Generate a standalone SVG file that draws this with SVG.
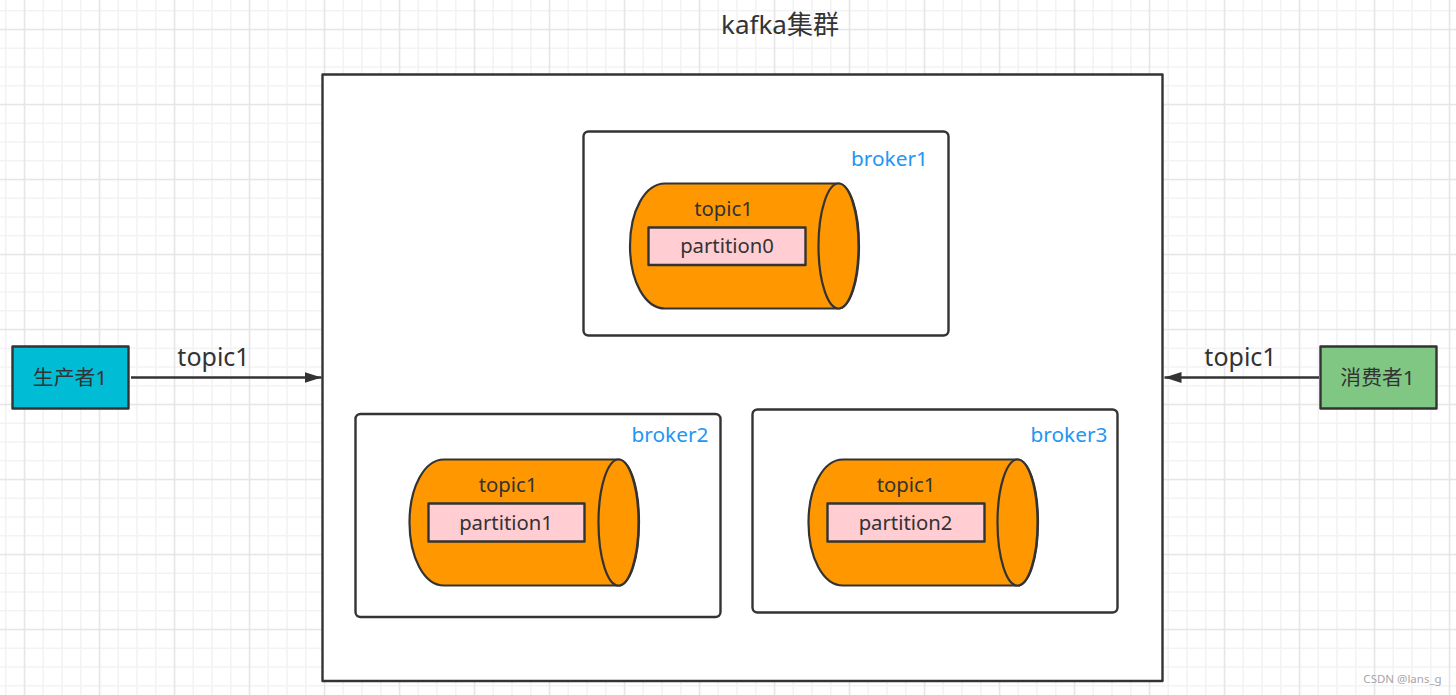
<svg xmlns="http://www.w3.org/2000/svg" width="1456" height="695" viewBox="0 0 1456 695">
<style>
.s{stroke:#333;stroke-width:2.4;stroke-linejoin:round}
.box{fill:#fff}
.cyl{fill:#ff9800;stroke:#333;stroke-width:2.2}
.p{fill:#ffcdd2}
text{font-family:"Noto Sans","Noto Sans CJK SC",sans-serif;fill:#333;text-anchor:middle}
.t{font-size:20.3px}
.b{font-size:20.8px;fill:#2196f3}
.l{font-size:25px}
.n{font-size:20.8px}
</style>
<defs>
<pattern id="grid" patternUnits="userSpaceOnUse" x="24" y="29" width="75" height="75">
<path d="M.5 0V75M19.25 0V75M38 0V75M56.75 0V75M0 .5H75M0 19.25H75M0 38H75M0 56.75H75" fill="none" stroke="#f3f3f3" stroke-width="1.6"/>
<path d="M.5 0V75M75.5 0V75M0 .5H75M0 75.500H75" fill="none" stroke="#e6e6e6" stroke-width="1.600"/>
</pattern>
<marker id="arrow" markerUnits="userSpaceOnUse" markerWidth="18" markerHeight="12" refX="17" refY="6" orient="auto-start-reverse">
<path d="M0 .5L17 6L0 11.5Z" fill="#333"/>
</marker>
</defs>
<rect width="1456" height="695" fill="#fff"/>
<rect width="1456" height="695" fill="url(#grid)"/>
<text x="780" y="34" style="font-size:26px">kafka集群</text>
<g id="cluster"><rect class="s box" x="322.500" y="74.500" width="840" height="606.500"/></g>
<g id="broker1">
<rect class="s box" x="583.500" y="131.500" width="365" height="204" rx="5"/>
<path class="cyl" d="M665 183.500H838C850 183.500 859 211 859 246S850 308.500 838 308.500H665C645 308.500 630 281 630 246S645 183.500 665 183.500Z"/>
<ellipse class="cyl" cx="838.500" cy="246" rx="20" ry="62.500"/>
<rect class="s p" x="648.500" y="227.500" width="157" height="37.500"/>
<text class="t" x="723.500" y="216">topic1</text>
<text class="t" x="727" y="253">partition0</text>
<text class="b" x="889.500" y="166">broker1</text>
</g>
<g id="broker2">
<rect class="s box" x="355.500" y="414" width="365" height="203" rx="5"/>
<path class="cyl" d="M444 459.500H618C630 459.500 639 487 639 522.500S630 585.500 618 585.500H444C424 585.500 409.500 557 409.500 522.500S424 459.500 444 459.500Z"/>
<ellipse class="cyl" cx="618.500" cy="522.500" rx="20" ry="63"/>
<rect class="s p" x="428.500" y="503.500" width="156" height="38"/>
<text class="t" x="508" y="492">topic1</text>
<text class="t" x="506" y="530">partition1</text>
<text class="b" x="670" y="442">broker2</text>
</g>
<g id="broker3">
<rect class="s box" x="752.500" y="409.500" width="365" height="203" rx="5"/>
<path class="cyl" d="M843 459.500H1017C1029 459.500 1038 487 1038 522.500S1029 585.500 1017 585.500H843C823 585.500 808.500 557 808.500 522.500S823 459.500 843 459.500Z"/>
<ellipse class="cyl" cx="1017.500" cy="522.500" rx="20" ry="63"/>
<rect class="s p" x="827.500" y="503.500" width="157" height="38"/>
<text class="t" x="906" y="492">topic1</text>
<text class="t" x="905.500" y="530">partition2</text>
<text class="b" x="1069" y="442">broker3</text>
</g>
<g id="producer">
<rect class="s" fill="#00bcd4" x="12.500" y="346.500" width="116" height="62"/>
<text class="n" x="70" y="385">生产者1</text>
</g>
<g id="consumer">
<rect class="s" fill="#81c784" x="1320.500" y="346.500" width="116" height="62"/>
<text class="n" x="1377.500" y="385">消费者1</text>
</g>
<g id="connectors" fill="none" stroke="#333" stroke-width="2.400">
<line x1="131" y1="377.500" x2="321.500" y2="377.500" marker-end="url(#arrow)"/>
<line x1="1319" y1="377.500" x2="1164.500" y2="377.500" marker-end="url(#arrow)"/>
</g>
<text class="l" x="213.500" y="366">topic1</text>
<text class="l" x="1240.500" y="366">topic1</text>
<text x="1402.500" y="683" style="font-size:11.5px;fill:#a6a6a6">CSDN @lans_g</text>
</svg>
